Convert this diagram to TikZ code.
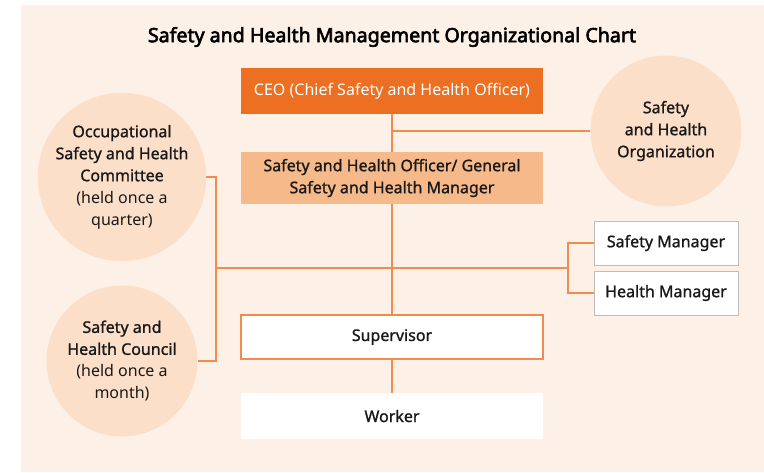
\documentclass[tikz,border=0pt]{standalone}
\usepackage{fontspec}
\setmainfont{Noto Sans}
\newfontfamily\mediumfont{Noto Sans}[FakeBold=1.1]
\newfontfamily\titlefont{Noto Sans}[FakeBold=3]
\usetikzlibrary{positioning}
\definecolor{panelbg}{HTML}{FDF1E7}
\definecolor{ceoorange}{HTML}{EC6F22}
\definecolor{officerfill}{HTML}{F6B98A}
\definecolor{circlefill}{HTML}{FCDFC9}
\definecolor{linkorange}{HTML}{F28C4E}
\definecolor{mgrborder}{HTML}{BDBDBD}
\pgfdeclarelayer{background}
\pgfdeclarelayer{links}
\pgfsetlayers{background,links,main}
\tikzset{
    org box/.style={
        minimum width=302pt,
        minimum height=46pt,
        inner sep=0pt,
        align=center,
        text=black!90,
        font=\fontsize{16}{22}\selectfont\mediumfont
    },
    org ceo/.style={org box, fill=ceoorange, text=white, font=\fontsize{16}{22}\selectfont},
    org officer/.style={org box, fill=officerfill, minimum height=52pt},
    org supervisor/.style={org box, fill=white, draw=linkorange, line width=1.5pt, minimum height=44pt},
    org worker/.style={org box, fill=white},
    org manager/.style={org box, fill=white, draw=mgrborder, line width=1pt,
        minimum width=144pt, minimum height=44pt},
    org circle/.style={
        circle,
        fill=circlefill,
        minimum size=151pt,
        inner sep=0pt,
        align=center,
        text=black!90,
        font=\fontsize{16}{22}\selectfont
    },
    org link/.style={draw=linkorange, line width=1.5pt}
}

\begin{document}
\begin{tikzpicture}[x=1pt,y=-1pt]
    \useasboundingbox (0,0) rectangle (764,472);
    \begin{pgfonlayer}{background}
        \fill[panelbg] (21,5) rectangle (764,472);
    \end{pgfonlayer}

    \node[font=\fontsize{19.6}{22}\selectfont\titlefont] (title) at (392,37) {Safety and Health Management Organizational Chart};

    \node[org ceo] (ceo) at (392,91) {CEO (Chief Safety and Health Officer)};
    \node[org officer] (officer) at (392,178) {Safety and Health Officer/ General\\Safety and Health Manager};
    \node[org supervisor] (sup) at (392,337) {Supervisor};
    \node[org worker] (worker) at (392,416) {Worker};

    \node[org circle] (org) at (666,131) {\mediumfont Safety\\\mediumfont and Health\\\mediumfont Organization};
    \node[org circle] (osh) at (122,177) {\mediumfont Occupational\\\mediumfont Safety and Health\\\mediumfont Committee\\(held once a\\quarter)};
    \node[org circle] (shc) at (122,361) {\mediumfont Safety and\\\mediumfont Health Council\\(held once a\\month)};

    \node[org manager] (safemgr) at (666,243) {Safety Manager};
    \node[org manager] (healthmgr) at (666,293) {Health Manager};

    \coordinate (leftjoin) at (216,268);
    \coordinate (rightjoin) at (568,268);

    \begin{pgfonlayer}{links}
        \draw[org link] (ceo.south) -- (sup.north);
        \draw[org link] (ceo.south |- org.west) -- (org.west);
        \draw[org link] (osh.east) -| (leftjoin);
        \draw[org link] (shc.east) -| (leftjoin);
        \draw[org link] (leftjoin) -- (rightjoin);
        \draw[org link] (rightjoin) |- (safemgr.west);
        \draw[org link] (rightjoin) |- (healthmgr.west);
        \draw[org link] (sup.south) -- (worker.north);
    \end{pgfonlayer}
\end{tikzpicture}
\end{document}
